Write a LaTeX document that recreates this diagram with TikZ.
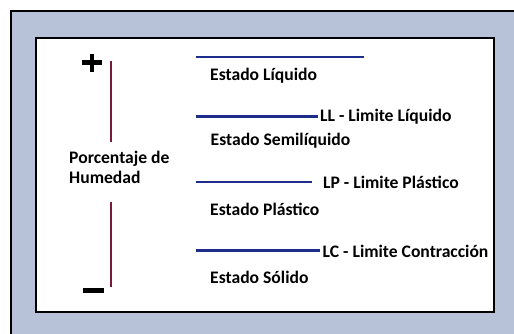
\documentclass[tikz,border=0pt]{standalone}
\usepackage{fontspec}
\setmainfont{Carlito}
\definecolor{bgblue}{HTML}{B7C2D8}
\definecolor{navy}{HTML}{1E2C8C}
\definecolor{maroon}{HTML}{7A1A3A}
\begin{document}
\begin{tikzpicture}[x=1pt,y=-1pt,
  lbl/.style={anchor=base west,inner sep=0pt,font=\fontsize{17.6}{20}\selectfont\bfseries},
  limline/.style={draw=navy,line width=2.2pt},
  axisline/.style={draw=maroon,line width=1.5pt}]
\useasboundingbox (0,0) rectangle (514,334);
\fill[white] (0,0) rectangle (514,334);
\fill[bgblue] (11,11) rectangle (514,334);
\draw[line width=2.6pt] (11,334) -- (11,11) -- (514,11);
\fill[white] (36,38) rectangle (494,312);
\draw[line width=2.4pt] (36,38) rectangle (494,312);
% plus and minus
\draw[line width=4.4pt] (82,62.5) -- (102,62.5) (92,54) -- (92,72);
\draw[line width=4.6pt] (83,290.7) -- (104,290.7);
% axis
\coordinate (a1) at (111,61);
\coordinate (a2) at (111,142);
\coordinate (a3) at (111,202);
\coordinate (a4) at (111,287);
\draw[axisline] (a1) -- (a2);
\draw[axisline] (a3) -- (a4);
\node[lbl] (pc) at (69,163.5) {Porcentaje de};
\node[lbl] (hu) at (69,183) {Humedad};
% limit lines
\coordinate (l1a) at (196,57); \coordinate (l1b) at (364,57);
\coordinate (l2a) at (196,116.5); \coordinate (l2b) at (318,116.5);
\coordinate (l3a) at (196,182); \coordinate (l3b) at (312,182);
\coordinate (l4a) at (196,250.5); \coordinate (l4b) at (320,250.5);
\draw[limline] (l1a) -- (l1b);
\draw[limline] (l2a) -- (l2b);
\draw[limline] (l3a) -- (l3b);
\draw[limline] (l4a) -- (l4b);
\node[lbl] (ll) at (320,121.7) {LL - Limite Líquido};
\node[lbl] (lp) at (323,189) {LP - Limite Plástico};
\node[lbl] (lc) at (322.5,257.3) {LC - Limite Contracción};
\node[lbl] (e1) at (210,80.7) {Estado Líquido};
\node[lbl] (e2) at (210.5,145.7) {Estado Semilíquido};
\node[lbl] (e3) at (210,215) {Estado Plástico};
\node[lbl] (e4) at (210,283) {Estado Sólido};
\end{tikzpicture}
\end{document}
